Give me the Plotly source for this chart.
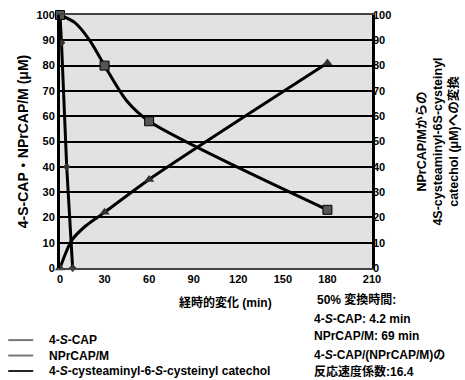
import plotly.graph_objects as go

FONT = "Liberation Sans, Arial, Noto Sans CJK JP, sans-serif"

# 4-S-CAP
cap_t = [0, 1, 4.5, 8.5]
cap_v = [100, 89, 40, 0]
# NPrCAP/M (measured points) and curve readings
npr_t = [0, 30, 60, 180]
npr_v = [100, 80, 58, 23]
npr_curve_t = [0, 10, 20, 30, 45, 60, 180]
npr_curve_v = [100, 97, 90, 80, 66, 58, 23]
# 4-S-cysteaminyl-6-S-cysteinyl catechol
cys_t = [0, 30, 60, 180]
cys_v = [0, 22, 35, 81]
cys_curve_t = [0, 8, 17, 30, 60, 180]
cys_curve_v = [0, 11, 16.5, 22, 35, 81]

x_ticks = [0, 30, 60, 90, 120, 150, 180, 210]
y_ticks = [0, 10, 20, 30, 40, 50, 60, 70, 80, 90, 100]

legend_names = ["4-<i>S</i>-CAP", "NPrCAP/M",
                "4-<i>S</i>-cysteaminyl-6-<i>S</i>-cysteinyl catechol"]
legend_colors = ["#777", "#777", "#222"]

fig = go.Figure()

fig.add_trace(go.Scatter(x=cap_t, y=cap_v, mode="lines+markers",
                         line=dict(color="black", width=3),
                         marker=dict(symbol="diamond", size=6, color="#333"),
                         cliponaxis=False, showlegend=False))
fig.add_trace(go.Scatter(x=npr_curve_t, y=npr_curve_v, mode="lines",
                         line=dict(color="black", width=3, shape="spline", smoothing=0.8),
                         cliponaxis=False, showlegend=False))
fig.add_trace(go.Scatter(x=npr_t, y=npr_v, mode="markers",
                         marker=dict(symbol="square", size=9, color="#555",
                                     line=dict(color="black", width=1)),
                         cliponaxis=False, showlegend=False))
fig.add_trace(go.Scatter(x=cys_curve_t, y=cys_curve_v, mode="lines",
                         line=dict(color="black", width=3, shape="spline", smoothing=0.8),
                         cliponaxis=False, showlegend=False))
fig.add_trace(go.Scatter(x=cys_t, y=cys_v, mode="markers",
                         marker=dict(symbol="triangle-up", size=9, color="#333"),
                         cliponaxis=False, showlegend=False))

# invisible trace on right axis
fig.add_trace(go.Scatter(x=[None], y=[None], yaxis="y2", showlegend=False))

fig.update_layout(
    width=465, height=380,
    margin=dict(l=60, r=93, t=15, b=112),
    paper_bgcolor="white", plot_bgcolor="#e2e2e2",
    showlegend=False,
    font=dict(family=FONT, size=11, color="black", weight="bold"),
    xaxis=dict(range=[0, 210], tickvals=x_ticks, showgrid=False, zeroline=False,
               showline=True, linecolor="#444", linewidth=2, mirror=True,
               ticks="", automargin=False, tickfont=dict(size=11, weight="bold")),
    yaxis=dict(range=[0, 100], tickvals=y_ticks, showgrid=True, gridcolor="black",
               gridwidth=1.5, zeroline=False, showline=True, linecolor="black",
               linewidth=3, mirror=True, ticks="", automargin=False,
               tickfont=dict(size=11, weight="bold"),
               title=dict(text="4-S-CAP・NPrCAP/M (μM)", font=dict(size=14, weight="bold"),
                          standoff=5)),
    yaxis2=dict(range=[0, 100], tickvals=y_ticks, overlaying="y", side="right",
                showgrid=False, zeroline=False, showline=False, ticks="",
                automargin=False, tickfont=dict(size=11, weight="bold"),
                title=dict(text="NPrCAP/Mからの<br>4S-cysteaminyl-6S-cysteinyl<br>catechol (μM)への変換",
                           font=dict(size=12.5, weight="bold"), standoff=26)),
)

# x-axis title
fig.add_annotation(text="経時的変化 (min)", x=0.53, y=-0.138, xref="paper", yref="paper",
                   xanchor="center", yanchor="middle", showarrow=False,
                   font=dict(size=12, weight="bold"))

# legend drawn as line samples + labels
leg_y = [-0.285, -0.346, -0.407]
for nm, col, yy in zip(legend_names, legend_colors, leg_y):
    fig.add_shape(type="line", xref="paper", yref="paper",
                  x0=-0.166, x1=-0.086, y0=yy, y1=yy,
                  line=dict(color=col, width=2))
    fig.add_annotation(text=nm, x=-0.042, y=yy, xref="paper", yref="paper",
                       xanchor="left", yanchor="middle", showarrow=False,
                       font=dict(size=12, weight="bold"))

notes = [
    ("50% 変換時間:", 0.817, -0.125),
    ("4-<i>S</i>-CAP: 4.2 min", 0.808, -0.2),
    ("NPrCAP/M: 69 min", 0.808, -0.267),
    ("4-<i>S</i>-CAP/(NPrCAP/M)の", 0.808, -0.344),
    ("反応速度係数:16.4", 0.808, -0.408),
]
for txt, xx, yy in notes:
    fig.add_annotation(text=txt, x=xx, y=yy, xref="paper", yref="paper",
                       xanchor="left", yanchor="middle", showarrow=False,
                       font=dict(size=12, weight="bold"))

fig.write_html("out.html", config={"displayModeBar": False},
               post_script="document.body.style.margin='0';document.body.style.overflow='hidden';")
